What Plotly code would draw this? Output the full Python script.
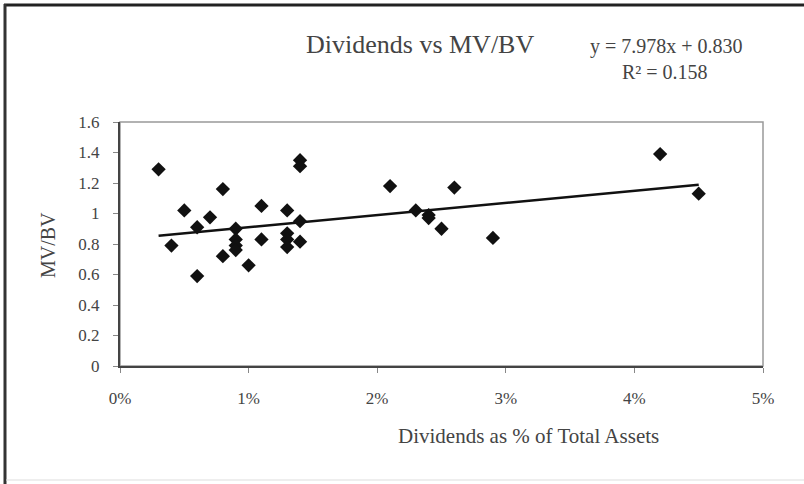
import plotly.graph_objects as go

# Data (x as fraction of total assets)
div_pct = [0.003, 0.004, 0.005, 0.006, 0.006, 0.007, 0.008, 0.008,
           0.009, 0.009, 0.009, 0.009, 0.010, 0.011, 0.011,
           0.013, 0.013, 0.013, 0.013, 0.014, 0.014, 0.014, 0.014,
           0.021, 0.023, 0.024, 0.024, 0.025, 0.026, 0.029, 0.042, 0.045]
mv_bv = [1.29, 0.79, 1.02, 0.91, 0.59, 0.975, 1.16, 0.72,
         0.90, 0.83, 0.79, 0.76, 0.66, 1.05, 0.83,
         1.02, 0.87, 0.83, 0.78, 1.35, 1.31, 0.95, 0.815,
         1.18, 1.02, 0.99, 0.97, 0.90, 1.17, 0.84, 1.39, 1.13]

slope = 7.978
intercept = 0.830
r2 = 0.158

x_ticks = [0, 0.01, 0.02, 0.03, 0.04, 0.05]
y_ticks = [0, 0.2, 0.4, 0.6, 0.8, 1.0, 1.2, 1.4, 1.6]
y_tick_text = ["0", "0.2", "0.4", "0.6", "0.8", "1", "1.2", "1.4", "1.6"]

serif = "Liberation Serif, Times New Roman, serif"
txt = "#444444"

trend_x = [min(div_pct), max(div_pct)]
trend_y = [slope * v + intercept for v in trend_x]

fig = go.Figure()
fig.add_trace(go.Scatter(x=trend_x, y=trend_y, mode="lines",
                         line=dict(color="#111111", width=2.5),
                         hoverinfo="skip", showlegend=False))
fig.add_trace(go.Scatter(x=div_pct, y=mv_bv, mode="markers",
                         marker=dict(symbol="diamond", size=11, color="#111111"),
                         showlegend=False))

W, H = 804, 484
L, R, T, B = 120, 763, 122, 366

def px(x):
    return (x - L) / (R - L)

def py(y):
    return (B - y) / (B - T)

def label(text, x, y, size, angle=0):
    return dict(text=text, xref="paper", yref="paper", x=px(x), y=py(y),
                xanchor="center", yanchor="middle", showarrow=False,
                textangle=angle, font=dict(size=size, color=txt, family=serif))

fig.update_layout(
    width=W, height=H,
    margin=dict(l=L, r=W - R, t=T, b=H - B),
    paper_bgcolor="white", plot_bgcolor="white",
    font=dict(family=serif, color=txt),
    xaxis=dict(range=[0, 0.05], tickvals=x_ticks, tickformat=".0%",
               showgrid=False, zeroline=False, showline=True,
               linecolor="#444444", linewidth=2, ticks="outside",
               ticklen=5, tickcolor="#888888",
               tickfont=dict(size=17, color=txt, family=serif),
               ticklabelstandoff=11),
    yaxis=dict(range=[0, 1.6], tickvals=y_ticks, ticktext=y_tick_text,
               showgrid=False, zeroline=False, showline=True,
               linecolor="#444444", linewidth=2, ticks="outside",
               ticklen=5, tickcolor="#888888",
               tickfont=dict(size=17, color=txt, family=serif),
               ticklabelstandoff=10),
    shapes=[
        dict(type="rect", xref="paper", yref="paper", x0=0, x1=1, y0=0, y1=1,
             line=dict(color="#999999", width=1.5), layer="below"),
        dict(type="line", xref="paper", yref="paper",
             x0=px(4), x1=px(806), y0=py(5), y1=py(5),
             line=dict(color="#222222", width=3)),
        dict(type="line", xref="paper", yref="paper",
             x0=px(5), x1=px(5), y0=py(4), y1=py(486),
             line=dict(color="#333333", width=3)),
        dict(type="line", xref="paper", yref="paper",
             x0=px(6), x1=px(804), y0=py(480), y1=py(480),
             line=dict(color="#dddddd", width=1)),
    ],
    annotations=[
        label("Dividends vs MV/BV", 420, 45, 26),
        label(f"y = {slope:.3f}x + {intercept:.3f}", 666, 46, 20),
        label(f"R² = {r2:.3f}", 665, 72, 20),
        label("MV/BV", 48, 245, 20, angle=-90),
        label("Dividends as % of Total Assets", 528, 436, 21),
    ],
)

fig.write_html("out.html", config={"displayModeBar": False},
               post_script="document.body.style.margin='0';")
